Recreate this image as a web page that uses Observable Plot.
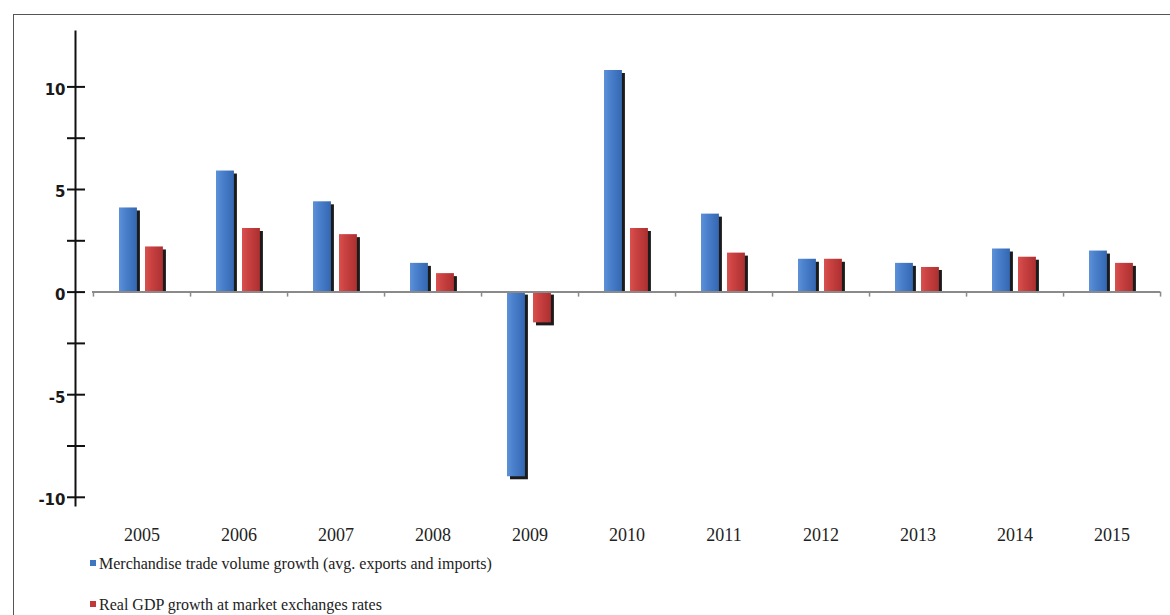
<!DOCTYPE html>
<html><head><meta charset="utf-8">
<script src="https://cdn.jsdelivr.net/npm/d3@7"></script>
<script src="https://cdn.jsdelivr.net/npm/@observablehq/plot@0.6"></script>
<style>
body{margin:0;background:#fff;}
#page{position:relative;width:1170px;height:615px;overflow:hidden;background:#fff;}
#frame{position:absolute;left:13px;top:14px;width:1200px;height:700px;border-left:1px solid #555;border-top:1px solid #555;}
#chart{position:absolute;left:0;top:0;}
.leg{position:absolute;left:90px;font-family:"Liberation Serif",serif;font-size:16px;color:#222;white-space:nowrap;}
.leg i{display:inline-block;width:6px;height:6px;margin-right:3px;vertical-align:3px;}
</style></head>
<body>
<div id="page">
  <div id="frame"></div>
  <div id="chart"></div>
  <div class="leg" id="leg1" style="top:555px;"></div>
  <div class="leg" id="leg2" style="top:596px;"></div>
</div>
<script>
const years = ["2005","2006","2007","2008","2009","2010","2011","2012","2013","2014","2015"];
const tradeGrowth = [4.1, 5.9, 4.4, 1.4, -9.0, 10.8, 3.8, 1.6, 1.4, 2.1, 2.0];
const gdpGrowth   = [2.2, 3.1, 2.8, 0.9, -1.5, 3.1, 1.9, 1.6, 1.2, 1.7, 1.4];
const seriesNames = ["Merchandise trade volume growth (avg. exports and imports)", "Real GDP growth at market exchanges rates"];
const yTickValues = [-10, -7.5, -5, -2.5, 0, 2.5, 5, 7.5, 10];
const yLabelValues = [-10, -5, 0, 5, 10];

const tradeRows = years.map((y, i) => ({year: y, value: tradeGrowth[i]}));
const gdpRows = years.map((y, i) => ({year: y, value: gdpGrowth[i]}));

const xRange = [92, 1160];
const step = (xRange[1] - xRange[0]) / years.length;
const pos = d => d.value >= 0;
const neg = d => d.value < 0;

function shadow(rows, inL, inR) {
  return [
    Plot.barY(rows, {filter: pos, x: "year", y: "value", insetLeft: inL, insetRight: inR, insetBottom: 3, dx: 3, dy: 3, fill: "#1b1b1b"}),
    Plot.barY(rows, {filter: neg, x: "year", y: "value", insetLeft: inL, insetRight: inR, dx: 3, dy: 3, fill: "#1b1b1b"})
  ];
}

const plot = Plot.plot({
  width: 1170,
  height: 550,
  marginLeft: 75,
  marginRight: 10,
  marginTop: 31,
  marginBottom: 45,
  x: {domain: years, range: xRange, padding: 0},
  y: {domain: [-10.4, 12.7]},
  style: {background: "transparent"},
  marks: [
    Plot.frame({anchor: "left", stroke: "#111", strokeWidth: 2}),
    Plot.axisY({ticks: yTickValues, tickSize: 18, dx: 10, tickFormat: () => "", label: null, stroke: "#111", strokeWidth: 2}),
    Plot.axisY({ticks: yLabelValues, tickSize: 0, tickPadding: 10, label: null,
      tickFormat: d => d < 0 ? "-" + Math.abs(d) : String(d),
      fontFamily: "DejaVu Sans, sans-serif", fontWeight: "bold", fontSize: 15, fill: "#1a1a1a", dy: 3}),
    Plot.axisX({tickSize: 0, tickPadding: 23, label: null,
      fontFamily: "Liberation Serif, serif", fontSize: 18, fill: "#222"}),
    ...shadow(tradeRows, 26, step - 44),
    ...shadow(gdpRows, 52, step - 70),
    Plot.barY(tradeRows, {x: "year", y: "value", insetLeft: 26, insetRight: step - 44, fill: "url(#gBlue)"}),
    Plot.barY(gdpRows, {x: "year", y: "value", insetLeft: 52, insetRight: step - 70, fill: "url(#gRed)"}),
    Plot.ruleY([0], {stroke: "#8a8a8a", strokeWidth: 2, insetLeft: 17}),
    Plot.ruleX(years, {x: d => d, y1: 0, y2: 0, insetBottom: -5, dx: step / 2, stroke: "#8a8a8a", strokeWidth: 1.5}),
    Plot.ruleX(years.slice(0, 1), {x: d => d, y1: 0, y2: 0, insetBottom: -5, dx: -step / 2, stroke: "#8a8a8a", strokeWidth: 1.5})
  ]
});

const ns = "http://www.w3.org/2000/svg";
const defs = document.createElementNS(ns, "defs");
defs.innerHTML = `
<linearGradient id="gBlue" x1="0" x2="1" y1="0" y2="0">
  <stop offset="0" stop-color="#5d92d8"/><stop offset="0.35" stop-color="#4a80cc"/><stop offset="1" stop-color="#3467b2"/>
</linearGradient>
<linearGradient id="gRed" x1="0" x2="1" y1="0" y2="0">
  <stop offset="0" stop-color="#d8514f"/><stop offset="0.35" stop-color="#c94241"/><stop offset="1" stop-color="#ad2f30"/>
</linearGradient>`;
plot.insertBefore(defs, plot.firstChild);
document.getElementById("chart").appendChild(plot);

const colors = ["#3f76c2", "#c0393b"];
["leg1", "leg2"].forEach((id, i) => {
  const el = document.getElementById(id);
  const sw = document.createElement("i");
  sw.style.background = colors[i];
  el.appendChild(sw);
  el.appendChild(document.createTextNode(seriesNames[i]));
});
</script>
</body></html>
